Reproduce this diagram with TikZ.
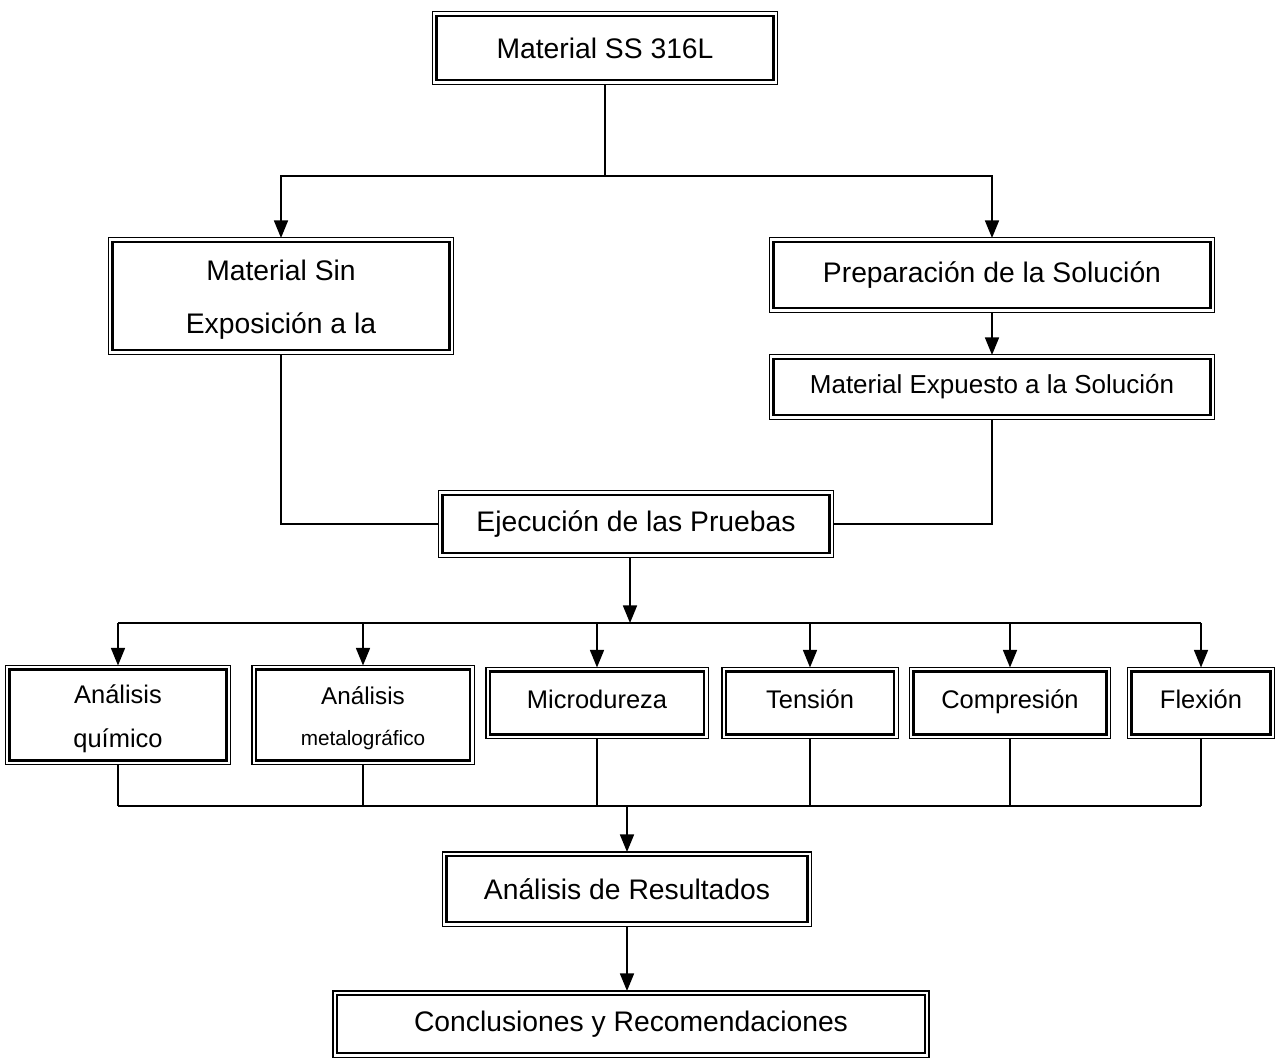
\documentclass[tikz,border=0pt]{standalone}
\usepackage{fontspec}
\setmainfont{Liberation Sans}
\usetikzlibrary{arrows.meta}
\tikzset{
  caja/.style={draw, line width=1.6pt, inner sep=0pt, outer sep=2.3pt, align=center,
    append after command={\pgfextra{\let\ult\tikzlastnode
      \draw[line width=0.6pt] (\ult.south west) rectangle (\ult.north east);}}},
  grande/.style={font=\fontsize{16.1}{30}\selectfont},
  chica/.style={font=\fontsize{14.5}{25}\selectfont, minimum height=1.26cm},
  prueba/.style={caja, chica, text height=10pt, text depth=4pt}
}
\begin{document}
\begin{tikzpicture}[x=0.02cm,y=-0.02cm,>={Triangle[length=10pt,width=8pt]},line width=0.85pt]
  \useasboundingbox (0,0) rectangle (1277,1061);

  % cajas superiores
  \node[caja,grande,minimum width=6.74cm,minimum height=1.28cm] (mat) at (605,48) {Material SS 316L};
  \node[caja,grande,minimum width=6.74cm,minimum height=2.16cm] (sin) at (281,296) {\rule{0pt}{16pt}Material Sin\\Exposición a la};
  \node[caja,grande,minimum width=8.74cm,minimum height=1.32cm] (prep) at (992,275) {Preparación de la Solución};
  \node[caja,font=\fontsize{14.8}{18}\selectfont,minimum width=8.74cm,minimum height=1.12cm] (exp) at (992,387) {Material Expuesto a la Solución};
  \node[caja,grande,minimum width=7.74cm,minimum height=1.16cm] (ejec) at (636,524) {Ejecución de las Pruebas};

  % pruebas
  \node[caja,chica,minimum width=4.34cm,minimum height=1.82cm] (quim) at (118,715) {\rule{0pt}{15pt}Análisis\\químico};
  \node[caja,font=\fontsize{11.8}{23}\selectfont,minimum width=4.28cm,minimum height=1.82cm] (meta) at (363,715) {\rule{0pt}{14pt}{\fontsize{13.8}{23}\selectfont Análisis}\\metalográfico};
  \node[prueba,minimum width=4.28cm] (micro) at (597,703) {Microdureza};
  \node[prueba,minimum width=3.36cm] (ten) at (810,703) {Tensión};
  \node[prueba,minimum width=3.86cm] (comp) at (1010,703) {Compresión};
  \node[prueba,minimum width=2.78cm] (flex) at (1201,703) {Flexión};

  % cajas finales
  \node[caja,grande,minimum width=7.22cm,minimum height=1.32cm] (res) at (627,889) {Análisis de Resultados};
  \node[caja,grande,minimum width=11.76cm,minimum height=1.16cm] (conc) at (631,1024) {Conclusiones y Recomendaciones};

  % conexiones
  \draw[->] (mat.south) -- ++(0,92) -| (sin.north);
  \draw[->] (mat.south) -- ++(0,92) -| (prep.north);
  \draw[->] (prep) -- (exp);
  \draw (sin.south) |- (ejec.west);
  \draw (exp.south) |- (ejec.east);

  \coordinate (bus) at (630,623);
  \coordinate (bus2) at (627,806);
  \draw[->] (ejec.south -| bus) -- (bus);
  \draw (quim.north |- bus) -- (flex.north |- bus);
  \foreach \n in {quim,meta,micro,ten,comp,flex}
    \draw[->] (\n.north |- bus) -- (\n.north);

  \foreach \n in {quim,meta,micro,ten,comp,flex}
    \draw (\n.south) -- (\n.south |- bus2);
  \draw (quim.south |- bus2) -- (flex.south |- bus2);
  \draw[->] (bus2) -- (res.north);
  \draw[->] (res.south) -- (res.south |- conc.north);
\end{tikzpicture}
\end{document}
